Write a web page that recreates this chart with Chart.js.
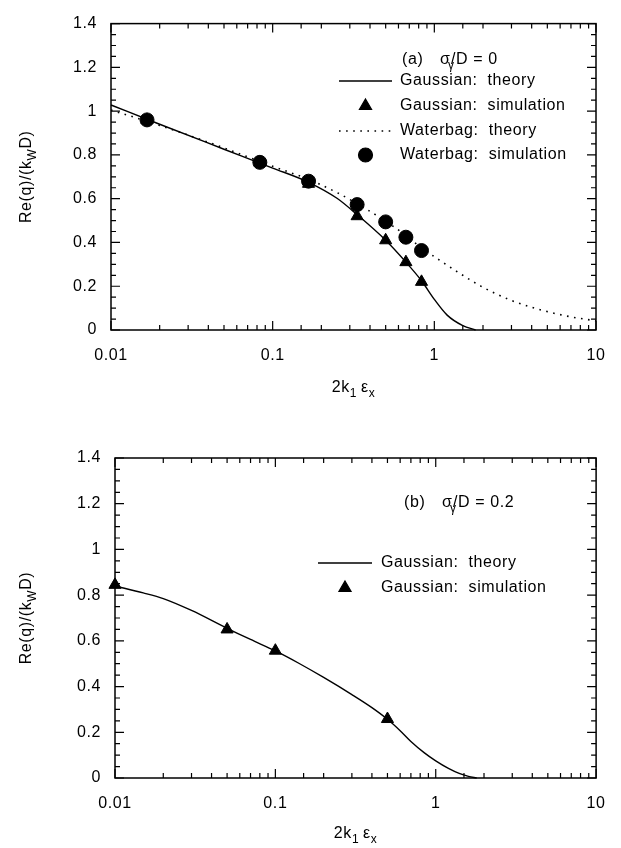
<!DOCTYPE html>
<html>
<head>
<meta charset="utf-8">
<script src="https://cdn.jsdelivr.net/npm/chart.js@4.4.1/dist/chart.umd.min.js"></script>
<style>
  html, body { margin: 0; padding: 0; background: #fff; }
  #wrap { position: relative; width: 621px; height: 848px; }
  canvas { position: absolute; left: 0; }
  #panelA { top: 0; }
  #panelB { top: 424px; }
</style>
</head>
<body>
<div id="wrap">
  <canvas id="panelA" width="621" height="424"></canvas>
  <canvas id="panelB" width="621" height="424"></canvas>
</div>
<script>
// Re(q)/(k_W D) vs 2k1 eps_x, two panels (sigma_gamma/D = 0 and 0.2)

// ---- panel (a) : sigma_gamma/D = 0 ----
const gaussTheoryX_a = [0.01, 0.02, 0.05, 0.1, 0.1667, 0.25, 0.333, 0.5, 0.667, 0.833, 1.0, 1.2, 1.5, 1.8];
const gaussTheoryY_a = [1.028, 0.94, 0.826, 0.74, 0.675, 0.602, 0.527, 0.41, 0.31, 0.225, 0.14, 0.068, 0.02, 0];
const gaussSimX_a = [0.0167, 0.0833, 0.1667, 0.333, 0.5, 0.667, 0.833];
const gaussSimY_a = [0.96, 0.765, 0.668, 0.52, 0.41, 0.31, 0.22];
const waterTheoryX_a = [0.01, 0.02, 0.05, 0.1, 0.1667, 0.25, 0.333, 0.5, 0.667, 0.833, 1, 1.5, 2, 3, 4, 5, 7, 10];
const waterTheoryY_a = [1.005, 0.935, 0.832, 0.748, 0.688, 0.628, 0.577, 0.497, 0.432, 0.375, 0.335, 0.25, 0.195, 0.135, 0.104, 0.084, 0.06, 0.042];
const waterSimX_a = [0.0167, 0.0833, 0.1667, 0.333, 0.5, 0.667, 0.833];
const waterSimY_a = [0.96, 0.766, 0.68, 0.573, 0.494, 0.424, 0.363];

// ---- panel (b) : sigma_gamma/D = 0.2 ----
const gaussTheoryX_b = [0.01, 0.015, 0.02, 0.03, 0.05, 0.07, 0.1, 0.14, 0.2, 0.3, 0.4, 0.5, 0.6, 0.7, 0.85, 1.0, 1.2, 1.4, 1.6, 1.8];
const gaussTheoryY_b = [0.84, 0.81, 0.785, 0.733, 0.655, 0.606, 0.556, 0.502, 0.44, 0.365, 0.308, 0.257, 0.207, 0.16, 0.11, 0.075, 0.042, 0.02, 0.007, 0];
const gaussSimX_b = [0.01, 0.05, 0.1, 0.5];
const gaussSimY_b = [0.845, 0.65, 0.557, 0.258];

// axes
const xMin = 0.01, xMax = 10;
const yMin = 0, yMax = 1.4, yStep = 0.05, yLabelStep = 0.2;

const FAMILY = '"Liberation Sans", Arial, Helvetica, sans-serif';
Chart.defaults.font.family = FAMILY;
Chart.defaults.font.size = 16;
Chart.defaults.color = '#000';

const pts = (xs, ys) => xs.map((x, i) => ({ x, y: ys[i] }));
const isDecade = v => Math.abs(Math.log10(v) - Math.round(Math.log10(v))) < 1e-6;
const isMajorY = v => Math.abs(v / yLabelStep - Math.round(v / yLabelStep)) < 1e-6;

function theory(data, dash) {
  return { data, showLine: true, pointRadius: 0, borderColor: '#000', borderWidth: dash ? 1.6 : 1.4,
    borderDash: dash || [], cubicInterpolationMode: 'monotone', order: 1, clip: false };
}
function sim(data, style) {
  return { data, showLine: false, pointStyle: style, pointRadius: 7, backgroundColor: '#000',
    borderColor: '#000', borderWidth: 1, order: 0, clip: false };
}

// draw text pieces, some as subscripts
function drawRich(ctx, parts, x, y) {
  let cx = x;
  parts.forEach(p => {
    ctx.font = (p.sub ? '12px ' : '16px ') + FAMILY;
    ctx.fillText(p.t, cx, p.sub ? y + 6 : y);
    cx += p.adv !== undefined ? p.adv : ctx.measureText(p.t).width;
  });
  return cx - x;
}
function richWidth(ctx, parts) {
  let w = 0;
  parts.forEach(p => {
    ctx.font = (p.sub ? '12px ' : '16px ') + FAMILY;
    w += p.adv !== undefined ? p.adv : ctx.measureText(p.t).width;
  });
  return w;
}

const yTitle = [{ t: 'Re(q)/(k' }, { t: 'W', sub: true }, { t: 'D)' }];
const xTitle = [{ t: '2k' }, { t: '1', sub: true }, { t: '\u2009\u03b5' }, { t: 'x', sub: true }];

const decor = {
  id: 'decor',
  beforeDraw(chart) { chart.ctx.letterSpacing = '0.6px'; },
  afterDraw(chart, args, opts) {
    const { ctx, chartArea: a, scales } = chart;
    ctx.save();
    ctx.letterSpacing = '0.6px';
    ctx.strokeStyle = '#000';
    ctx.fillStyle = '#000';
    ctx.setLineDash([]);
    ctx.lineWidth = 1.5;
    ctx.strokeRect(a.left, a.top, a.right - a.left, a.bottom - a.top);

    // inward ticks on all four sides
    ctx.lineWidth = 1.2;
    ctx.beginPath();
    scales.x.ticks.forEach(t => {
      const px = scales.x.getPixelForValue(t.value);
      const len = isDecade(t.value) ? 9 : 5;
      ctx.moveTo(px, a.bottom); ctx.lineTo(px, a.bottom - len);
      ctx.moveTo(px, a.top); ctx.lineTo(px, a.top + len);
    });
    scales.y.ticks.forEach(t => {
      const py = scales.y.getPixelForValue(t.value);
      const len = isMajorY(t.value) ? 9 : 5;
      ctx.moveTo(a.left, py); ctx.lineTo(a.left + len, py);
      ctx.moveTo(a.right, py); ctx.lineTo(a.right - len, py);
    });
    ctx.stroke();

    // axis titles
    ctx.textBaseline = 'middle';
    ctx.textAlign = 'left';
    const xw = richWidth(ctx, xTitle);
    drawRich(ctx, xTitle, (a.left + a.right) / 2 - xw / 2, a.bottom + opts.xTitleOffset);
    ctx.save();
    ctx.translate(opts.yTitleX, (a.top + a.bottom) / 2);
    ctx.rotate(-Math.PI / 2);
    const yw = richWidth(ctx, yTitle);
    drawRich(ctx, yTitle, -yw / 2, 0);
    ctx.restore();

    // panel label
    ctx.font = '16px ' + FAMILY;
    ctx.fillText(opts.tag, opts.tagX, opts.tagY);
    drawRich(ctx, [{ t: '\u03c3', adv: 8 }, { t: '\u03b3', sub: true, adv: 3 }, { t: '/D = ' + opts.sigma }], opts.sigmaX, opts.tagY);

    // legend
    opts.rows.forEach((r, i) => {
      const ds = chart.data.datasets[r.ds];
      const y = opts.rowY[i];
      ctx.save();
      if (ds.showLine) {
        ctx.setLineDash(ds.borderDash || []);
        ctx.lineWidth = ds.borderWidth;
        ctx.beginPath();
        ctx.moveTo(opts.lineX0, y); ctx.lineTo(opts.lineX1, y);
        ctx.stroke();
      } else {
        ctx.fillStyle = ds.backgroundColor;
        Chart.helpers.drawPoint(ctx, { pointStyle: ds.pointStyle, radius: ds.pointRadius, rotation: 0, borderWidth: 1 },
          (opts.lineX0 + opts.lineX1) / 2, y);
      }
      ctx.restore();
      ctx.font = '16px ' + FAMILY;
      ctx.fillText(r.label, opts.textX, y);
    });
    ctx.restore();
  }
};

function makePanel(id, datasets, frame, decorOpts) {
  return new Chart(document.getElementById(id), {
    type: 'scatter',
    data: { datasets },
    options: {
      responsive: false,
      animation: false,
      events: [],
      layout: { padding: { left: 0, right: frame.padRight, top: frame.padTop, bottom: 0 } },
      plugins: { legend: { display: false }, tooltip: { enabled: false }, decor: decorOpts },
      scales: {
        x: {
          type: 'logarithmic', min: xMin, max: xMax,
          grid: { display: false, drawTicks: false }, border: { display: false },
          ticks: { autoSkip: false, maxRotation: 0, padding: 16,
            callback: v => isDecade(v) ? String(Number(v.toPrecision(3))) : '' },
          afterFit: s => { s.height = frame.bottomH; }
        },
        y: {
          min: yMin, max: yMax,
          grid: { display: false, drawTicks: false }, border: { display: false },
          ticks: { stepSize: yStep, autoSkip: false, padding: 14,
            callback: v => isMajorY(v) ? String(Math.round(v * 100) / 100) : '' },
          afterFit: s => { s.width = frame.leftW; }
        }
      }
    },
    plugins: [decor]
  });
}

makePanel('panelA', [
  theory(pts(gaussTheoryX_a, gaussTheoryY_a)),
  sim(pts(gaussSimX_a, gaussSimY_a), 'triangle'),
  theory(pts(waterTheoryX_a, waterTheoryY_a), [1.6, 5.5]),
  sim(pts(waterSimX_a, waterSimY_a), 'circle')
], { padRight: 25, padTop: 10, leftW: 111, bottomH: 94 }, {
  tag: '(a)', sigma: '0', tagX: 402, sigmaX: 440, tagY: 60,
  xTitleOffset: 58, yTitleX: 27,
  lineX0: 339, lineX1: 392, textX: 400,
  rowY: [81, 106, 131, 155],
  rows: [
    { ds: 0, label: 'Gaussian:  theory' },
    { ds: 1, label: 'Gaussian:  simulation' },
    { ds: 2, label: 'Waterbag:  theory' },
    { ds: 3, label: 'Waterbag:  simulation' }
  ]
});

makePanel('panelB', [
  theory(pts(gaussTheoryX_b, gaussTheoryY_b)),
  sim(pts(gaussSimX_b, gaussSimY_b), 'triangle')
], { padRight: 23, padTop: 34, leftW: 115, bottomH: 70 }, {
  tag: '(b)', sigma: '0.2', tagX: 404, sigmaX: 442, tagY: 79,
  xTitleOffset: 56, yTitleX: 27,
  lineX0: 318, lineX1: 372, textX: 381,
  rowY: [139, 164],
  rows: [
    { ds: 0, label: 'Gaussian:  theory' },
    { ds: 1, label: 'Gaussian:  simulation' }
  ]
});
</script>
</body>
</html>
